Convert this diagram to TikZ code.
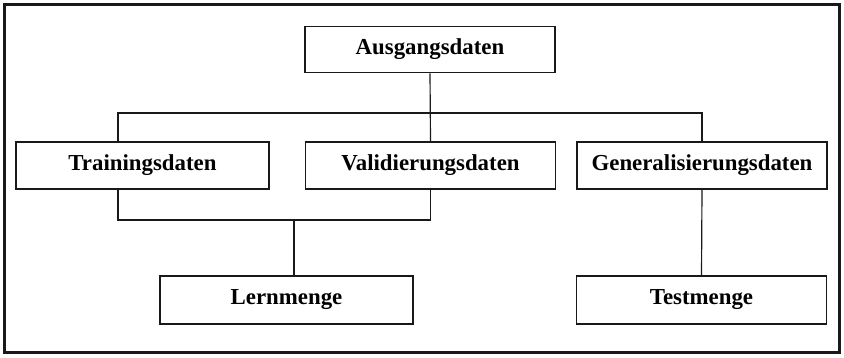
\documentclass[tikz,border=0pt]{standalone}
\usepackage{fontspec}
\setmainfont{Liberation Serif}
\usepackage{tikz}
\usepackage{xcolor}
\usetikzlibrary{positioning, calc}
\definecolor{ink}{RGB}{25, 25, 25}
\tikzset{
    box/.style={rectangle, draw=ink, line width=1.5pt, align=center, font=\fontsize{19.5}{23}\selectfont\bfseries, minimum width=7.5cm, minimum height=1.42cm, inner sep=2pt},
    link/.style={draw=ink, line width=1pt},
    frame/.style={draw=ink, line width=2.4pt}
}
\begin{document}
\begin{tikzpicture}[x=0.03cm, y=-0.03cm]
        \useasboundingbox (0,0) rectangle (844,357);
        \draw[frame] (4.5,4.5) rectangle (839.5,352.5);
        \node[box, minimum height=1.38cm] (ausgang) at (430,49.5) {Ausgangsdaten};
        \node[box, minimum width=7.6cm] (training) at (142.5,165.5) {Trainingsdaten};
        \node[box] (valid) at (430.5,165.5) {Validierungsdaten};
        \node[box] (general) at (702,165.5) {Generalisierungsdaten};
        \node[box, minimum width=7.6cm] (lern) at (286.5,300) {Lernmenge};
        \node[box] (test) at (701.5,300) {Testmenge};
        \coordinate (topL) at (118,113); \coordinate (topR) at (702,113);
        \coordinate (botL) at (118,220); \coordinate (botR) at (430.5,220);
        \draw[link] (ausgang.south) -- (valid.north);
        \draw[link] (training.north -| topL) -- (topL) -- (topR) -- (general.north);
        \draw[link] (training.south -| botL) -- (botL) -- (botR) -- (valid.south);
        \draw[link] (lern.north -| 294,0) -- (294,220);
        \draw[link] (general.south) -- (test.north);
    \end{tikzpicture}
\end{document}
